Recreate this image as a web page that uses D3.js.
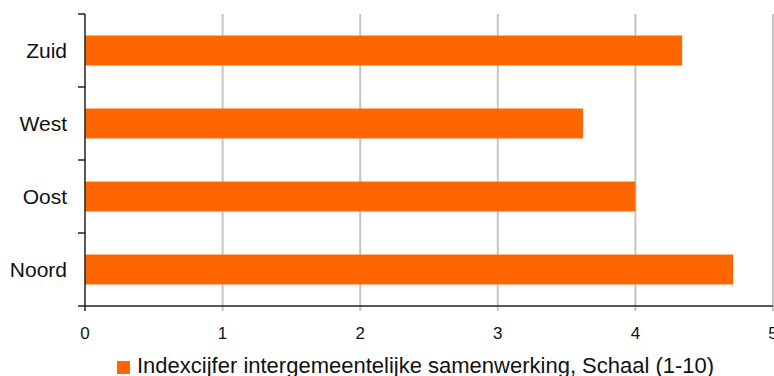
<!DOCTYPE html>
<html>
<head>
<meta charset="utf-8">
<script src="https://cdn.jsdelivr.net/npm/d3@7/dist/d3.min.js"></script>
<style>
  html, body { margin: 0; padding: 0; background: #fff; }
  svg { display: block; font-family: "Liberation Sans", Arial, sans-serif; }
</style>
</head>
<body>
<svg id="chart" width="774" height="376"></svg>
<script>
// Regions, top to bottom
const categories = ["Zuid", "West", "Oost", "Noord"];
const values = [4.34, 3.62, 4.0, 4.71];
const xTicks = [0, 1, 2, 3, 4, 5];
const seriesName = "Indexcijfer intergemeentelijke samenwerking, Schaal (1-10)";

const svg = d3.select("#chart");
const plotLeft = 85, plotRight = 773, plotTop = 14, plotBottom = 306;

const x = d3.scaleLinear().domain([0, 5]).range([plotLeft, plotRight]);
const y = d3.scaleBand().domain(categories).range([plotTop, plotBottom]).paddingInner(0.59).paddingOuter(0.295);
const yOuter = d3.scaleBand().domain(categories).range([plotTop, plotBottom]);

// vertical gridlines
svg.append("g").selectAll("line")
  .data(xTicks.filter(d => d > 0))
  .join("line")
  .attr("x1", d => x(d)).attr("x2", d => x(d))
  .attr("y1", plotTop).attr("y2", plotBottom + 5)
  .attr("stroke", "#c4c4c4").attr("stroke-width", 2);

// bars
svg.append("g").selectAll("rect")
  .data(categories)
  .join("rect")
  .attr("x", x(0))
  .attr("y", d => y(d))
  .attr("width", (d, i) => x(values[i]) - x(0))
  .attr("height", y.bandwidth())
  .attr("fill", "#ff6600");

// category axis: line plus ticks at band boundaries
const yAxis = svg.append("g");
yAxis.append("line")
  .attr("x1", plotLeft).attr("x2", plotLeft).attr("y1", plotTop).attr("y2", plotBottom)
  .attr("stroke", "#222").attr("stroke-width", 1.5);
yAxis.selectAll("line.tick")
  .data(categories.map(c => yOuter(c)).concat([plotBottom]))
  .join("line").attr("class", "tick")
  .attr("x1", plotLeft - 7).attr("x2", plotLeft)
  .attr("y1", d => d).attr("y2", d => d)
  .attr("stroke", "#222").attr("stroke-width", 1.5);
yAxis.selectAll("text")
  .data(categories)
  .join("text")
  .attr("x", 67)
  .attr("y", d => yOuter(d) + yOuter.bandwidth() / 2)
  .attr("dy", "0.36em")
  .attr("text-anchor", "end")
  .attr("font-size", 21)
  .attr("fill", "#111")
  .text(d => d);

// value axis
const xAxis = svg.append("g");
xAxis.append("line")
  .attr("x1", plotLeft).attr("x2", plotRight).attr("y1", plotBottom).attr("y2", plotBottom)
  .attr("stroke", "#222").attr("stroke-width", 1.5);
xAxis.append("line")
  .attr("x1", x(0)).attr("x2", x(0)).attr("y1", plotBottom).attr("y2", plotBottom + 5)
  .attr("stroke", "#222").attr("stroke-width", 1.5);
xAxis.selectAll("text")
  .data(xTicks)
  .join("text")
  .attr("x", d => x(d))
  .attr("y", 339)
  .attr("text-anchor", "middle")
  .attr("font-size", 17)
  .attr("fill", "#111")
  .text(d => d);

// legend
const legend = svg.append("g");
legend.append("rect")
  .attr("x", 117).attr("y", 361).attr("width", 13).attr("height", 13)
  .attr("fill", "#ff6600");
legend.append("text")
  .attr("x", 137).attr("y", 373)
  .attr("font-size", 22)
  .attr("fill", "#111")
  .text(seriesName);
</script>
</body>
</html>
